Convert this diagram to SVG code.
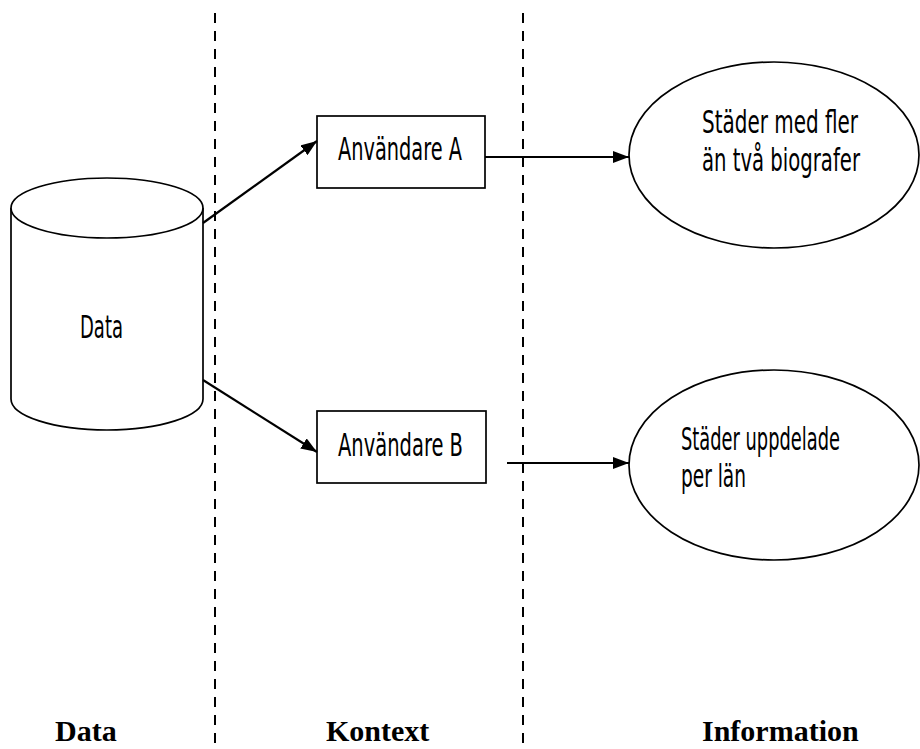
<svg xmlns="http://www.w3.org/2000/svg" width="920" height="749" viewBox="0 0 920 749">
<defs>
<marker id="arr" markerUnits="userSpaceOnUse" markerWidth="16" markerHeight="12" refX="16" refY="6" orient="auto">
<path d="M0,0 L16,6 L0,12 z" fill="#000"/>
</marker>
<style>
.shape{fill:#fff;stroke:#000;stroke-width:1.7}
.div{stroke:#000;stroke-width:2;stroke-dasharray:10 8;fill:none}
.conn{stroke:#000;stroke-width:2.2;fill:none;marker-end:url(#arr)}
.lbl{font-family:"Liberation Sans Narrow","DejaVu Sans Condensed","Liberation Sans",sans-serif;font-size:26px;fill:#000}
.col{font-family:"Liberation Serif","Times New Roman",serif;font-size:30px;font-weight:bold;fill:#000}
</style>
</defs>
<rect width="920" height="749" fill="#fff"/>
<g id="dividers">
<line class="div" x1="215" y1="13" x2="215" y2="749"/>
<line class="div" x1="523" y1="13" x2="523" y2="749"/>
</g>
<g id="data">
<path class="shape" d="M11,208 L11,399 A96,31 0 0 0 203,399 L203,208 A96,30 0 0 0 11,208 Z"/>
<path class="shape" d="M11,208 A96,30 0 0 0 203,208" fill="none"/>
<text class="lbl" transform="translate(80,338) scale(1,1.2)" x="0" y="0" textLength="43" lengthAdjust="spacingAndGlyphs">Data</text>
</g>
<g id="userA">
<rect class="shape" x="317" y="116" width="168" height="72"/>
<text class="lbl" transform="translate(338,160) scale(1,1.2)" x="0" y="0" textLength="124" lengthAdjust="spacingAndGlyphs">Användare A</text>
</g>
<g id="userB">
<rect class="shape" x="317" y="411" width="169" height="72"/>
<text class="lbl" transform="translate(338,456) scale(1,1.2)" x="0" y="0" textLength="125" lengthAdjust="spacingAndGlyphs">Användare B</text>
</g>
<g id="infoA">
<ellipse class="shape" cx="774" cy="155" rx="145" ry="93"/>
<text class="lbl" transform="translate(702,133) scale(1,1.2)" x="0" y="0" textLength="156" lengthAdjust="spacingAndGlyphs">Städer med fler</text>
<text class="lbl" transform="translate(702,171) scale(1,1.2)" x="0" y="0" textLength="158" lengthAdjust="spacingAndGlyphs">än två biografer</text>
</g>
<g id="infoB">
<ellipse class="shape" cx="774" cy="465" rx="145" ry="95"/>
<text class="lbl" transform="translate(681,450) scale(1,1.2)" x="0" y="0" textLength="159" lengthAdjust="spacingAndGlyphs">Städer uppdelade</text>
<text class="lbl" transform="translate(681,487) scale(1,1.2)" x="0" y="0" textLength="65" lengthAdjust="spacingAndGlyphs">per län</text>
</g>
<g id="connectors">
<line class="conn" x1="203" y1="223" x2="317" y2="141"/>
<line class="conn" x1="203" y1="380" x2="317" y2="452"/>
<line class="conn" x1="485" y1="157" x2="629" y2="157"/>
<line class="conn" x1="507" y1="463" x2="629" y2="463"/>
</g>
<g id="columns">
<text class="col" x="55" y="741">Data</text>
<text class="col" x="326" y="741">Kontext</text>
<text class="col" x="702" y="741">Information</text>
</g>
</svg>
